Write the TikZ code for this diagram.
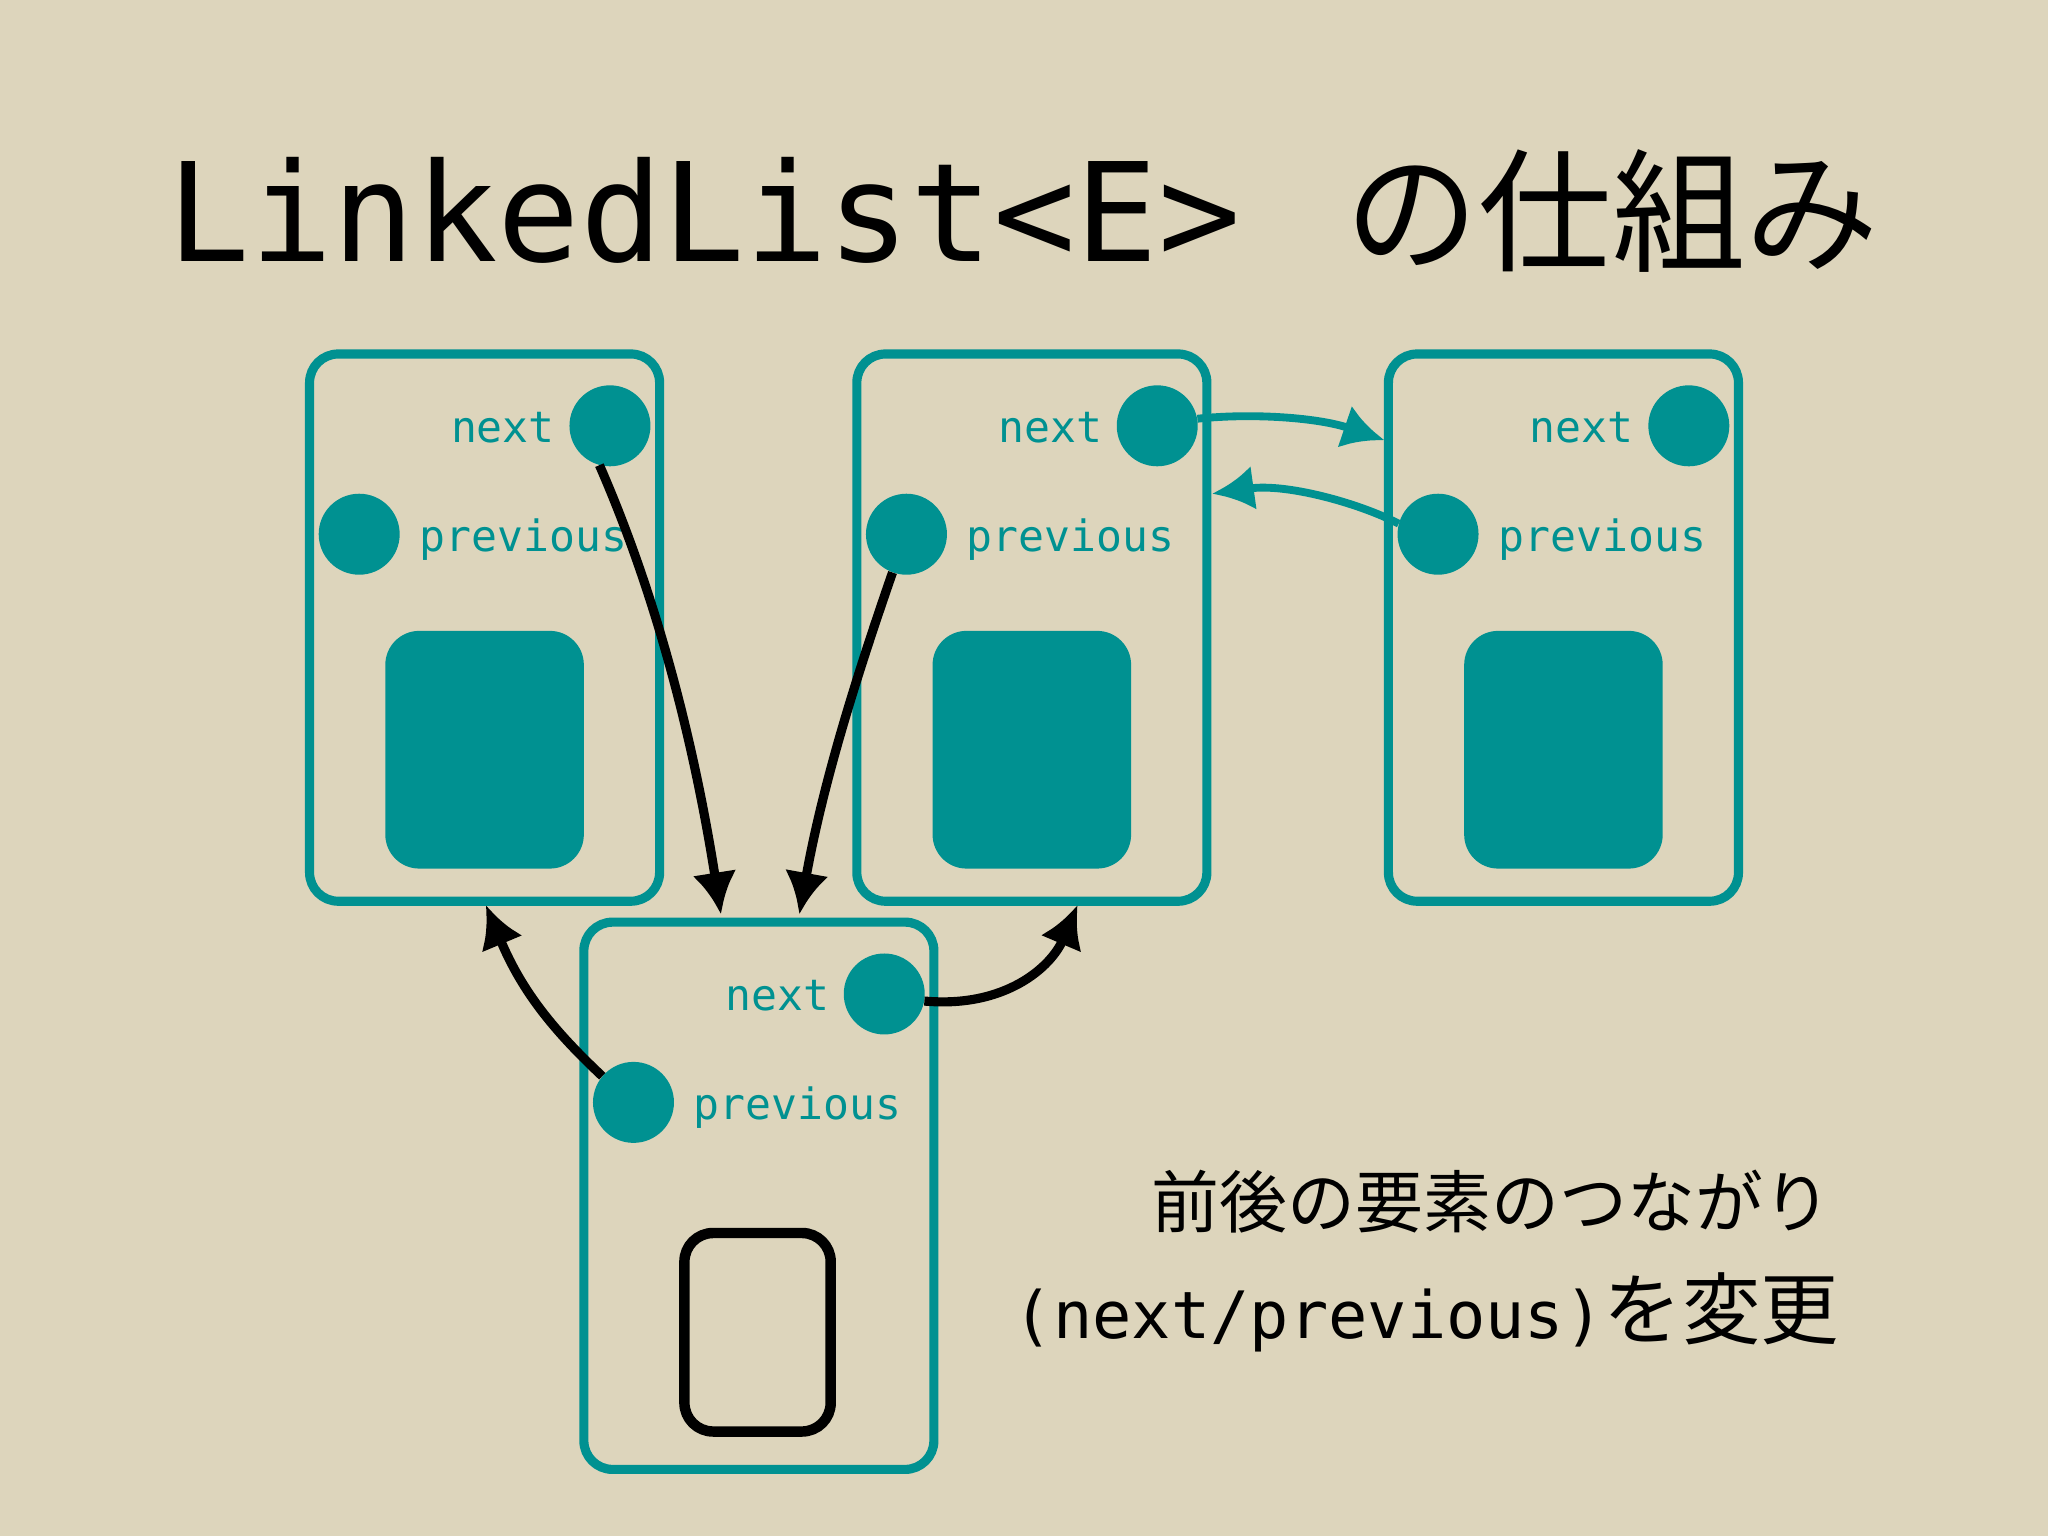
\documentclass[tikz,border=0pt]{standalone}
\usepackage{fontspec}
\setmonofont{DejaVu Sans Mono}
\newfontfamily\cjk{Noto Sans CJK JP}
\usetikzlibrary{arrows.meta}
\definecolor{bg}{RGB}{221,213,188}
\definecolor{teal}{RGB}{0,145,145}
\tikzset{
  card/.style={draw=teal,line width=7pt,rounded corners=22pt,minimum width=268pt,minimum height=419pt,inner sep=0},
  inner/.style={fill=teal,rounded corners=26pt,minimum width=152pt,minimum height=182pt,inner sep=0},
  dot/.style={circle,fill=teal,minimum size=62pt,inner sep=0},
  lbl/.style={text=teal,font=\ttfamily\fontsize{33}{36}\selectfont,inner sep=0},
  blk/.style={line width=7pt,-{Latex[length=32pt,width=34pt]}},
  tl/.style={draw=teal,line width=6pt,-{Latex[length=32pt,width=34pt]}}
}
\begin{document}
\begin{tikzpicture}[x=1pt,y=-1pt]
\fill[bg] (0,0) rectangle (1568,1176);
\useasboundingbox (0,0) rectangle (1568,1176);
\node[font=\ttfamily\fontsize{105}{110}\selectfont,anchor=base west,inner sep=0] (t1) at (128,200) {LinkedList<E>};
\node[font=\cjk\fontsize{102}{110}\selectfont,anchor=base west,inner sep=0] (t2) at (1030,200) {の仕組み};
\foreach \n/\dx/\dy in {a/0/0,b/419/0,c/826/0,d/210/435}{
  \node[card] (\n) at (371+\dx,480.5+\dy) {};
  \node[dot] (\n-n) at (467+\dx,326+\dy) {};
  \node[dot] (\n-p) at (275+\dx,409+\dy) {};
  \node[lbl,anchor=base east] (\n-nl) at (425+\dx,339+\dy) {next};
  \node[lbl,anchor=base west] (\n-pl) at (321+\dx,422+\dy) {previous};
}
\foreach \n/\dx in {a/0,b/419,c/826}{
  \node[inner] (\n-i) at (371+\dx,574) {};
}
\node[draw=black,line width=8pt,rounded corners=22pt,minimum width=112pt,minimum height=152pt,inner sep=0] (di) at (580,1020) {};
% black arrows
\coordinate (a1) at (552,700);
\coordinate (b1) at (612,700);
\coordinate (a2) at (372,693);
\coordinate (b2) at (825,693);
\draw[blk] (a-n.255) .. controls (500,450) and (530,560) .. (a1);
\draw[blk] (b-p.250) .. controls (655,520) and (630,600) .. (b1);
\draw[blk] (d-p.140) .. controls (425,790) and (400,760) .. (a2);
\draw[blk] (d-n.-10) .. controls (770,772) and (805,740) .. (b2);
% teal arrows
\coordinate (c1) at (1060,337);
\coordinate (b3) at (928,378);
\draw[tl] (b-n.10) .. controls (960,316) and (1010,320) .. (c1);
\draw[tl] (c-p.165) .. controls (1040,385) and (985,370) .. (b3);
\node[font=\cjk\fontsize{52}{56}\selectfont,anchor=base east,inner sep=0] (s1) at (1402,940) {前後の要素のつながり};
\node[anchor=base east,inner sep=0] (s2) at (1408,1025) {\ttfamily\fontsize{50}{54}\selectfont(next/previous)\cjk\fontsize{60}{64}\selectfont を変更};
\end{tikzpicture}
\end{document}
